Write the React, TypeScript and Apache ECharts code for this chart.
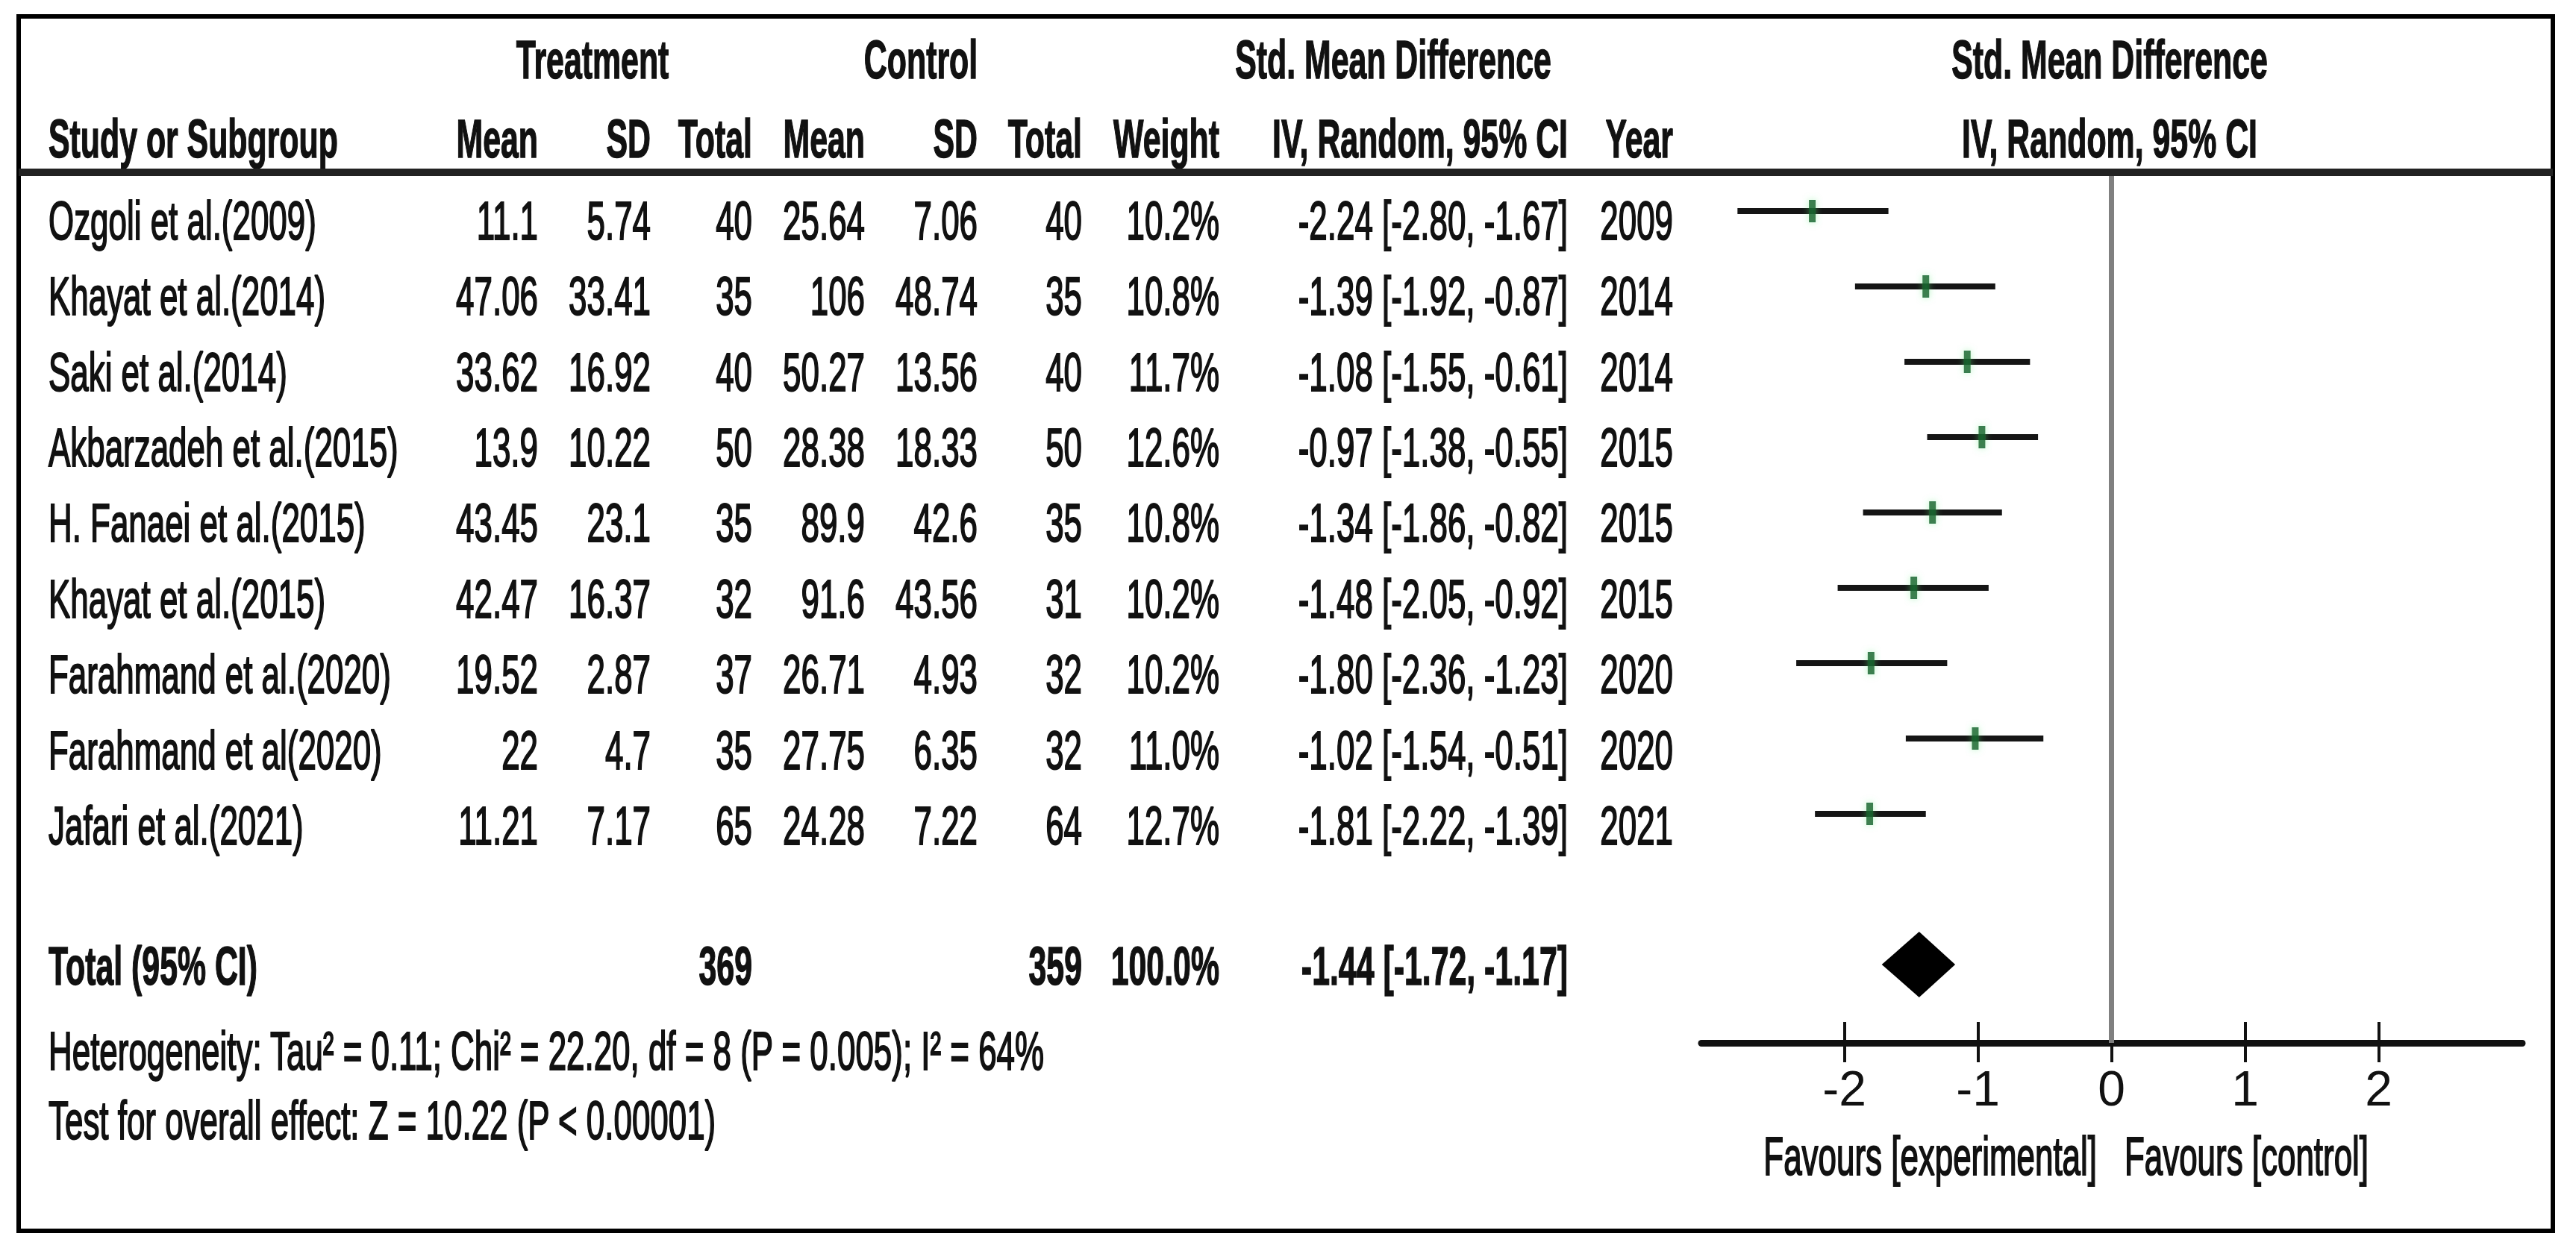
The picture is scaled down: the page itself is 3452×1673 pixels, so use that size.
import React, { useEffect, useRef } from 'react';
import * as echarts from 'echarts';

// ---------------- data ----------------
const studies = [
  'Ozgoli et al.(2009)',
  'Khayat et al.(2014)',
  'Saki et al.(2014)',
  'Akbarzadeh et al.(2015)',
  'H. Fanaei et al.(2015)',
  'Khayat et al.(2015)',
  'Farahmand et al.(2020)',
  'Farahmand et al(2020)',
  'Jafari et al.(2021)',
];
const treatMean = [11.1, 47.06, 33.62, 13.9, 43.45, 42.47, 19.52, 22, 11.21];
const treatSD = [5.74, 33.41, 16.92, 10.22, 23.1, 16.37, 2.87, 4.7, 7.17];
const treatN = [40, 35, 40, 50, 35, 32, 37, 35, 65];
const ctrlMean = [25.64, 106, 50.27, 28.38, 89.9, 91.6, 26.71, 27.75, 24.28];
const ctrlSD = [7.06, 48.74, 13.56, 18.33, 42.6, 43.56, 4.93, 6.35, 7.22];
const ctrlN = [40, 35, 40, 50, 35, 31, 32, 32, 64];
const weights = [10.2, 10.8, 11.7, 12.6, 10.8, 10.2, 10.2, 11.0, 12.7];
const smd = [-2.24, -1.39, -1.08, -0.97, -1.34, -1.48, -1.8, -1.02, -1.81];
const ciLow = [-2.8, -1.92, -1.55, -1.38, -1.86, -2.05, -2.36, -1.54, -2.22];
const ciHigh = [-1.67, -0.87, -0.61, -0.55, -0.82, -0.92, -1.23, -0.51, -1.39];
const years = [2009, 2014, 2014, 2015, 2015, 2015, 2020, 2020, 2021];

const totalTreatN = 369;
const totalCtrlN = 359;
const totalWeight = 100.0;
const totalSmd = -1.44;
const totalLow = -1.72;
const totalHigh = -1.17;

const headerTop = ['Treatment', 'Control', 'Std. Mean Difference', 'Std. Mean Difference'];
const headerBottom = ['Study or Subgroup', 'Mean', 'SD', 'Total', 'Mean', 'SD', 'Total', 'Weight', 'IV, Random, 95% CI', 'Year', 'IV, Random, 95% CI'];
const totalLabel = 'Total (95% CI)';
const heterogeneityText = 'Heterogeneity: Tau\u00B2 = 0.11; Chi\u00B2 = 22.20, df = 8 (P = 0.005); I\u00B2 = 64%';
const overallText = 'Test for overall effect: Z = 10.22 (P < 0.00001)';
const favoursLeft = 'Favours [experimental]';
const favoursRight = 'Favours [control]';
const axisTicks = [-2, -1, 0, 1, 2];

// ---------------- layout ----------------
const W = 3452;
const H = 1673;
const FONT = '"Liberation Sans", Arial, sans-serif';
const FS = 72;
const SX_NORMAL = 0.61;
const SX_BOLD = 0.595;
const INK = '#111';

// table grid (row units)
const T_TOP = 22;
const T_BOTTOM = 1650;
const T_ROW0 = 296;
const T_STEP = 101.4;
const tMin = (T_TOP - T_ROW0) / T_STEP;
const tMax = (T_BOTTOM - T_ROW0) / T_STEP;
const ROW_HEAD1 = -2.13;
const ROW_HEAD2 = -1.085;
const ROW_TOTAL = 9.85;
const ROW_HET = 10.98;
const ROW_TEST = 11.9;
const ROW_FAV = 12.37;

// forest grid
const F_TOP = 231;
const F_AXIS = 1398;
const F_ROW0 = 283;
const F_STEP = 101;
const fMin = (F_TOP - F_ROW0) / F_STEP;
const fMax = (F_AXIS - F_ROW0) / F_STEP;
const PLOT_TOTAL_ROW = 10;
const X_MIN = -3.07;
const X_MAX = 3.075;
const F_LEFT = 2280;
const F_WIDTH = 1100;

const COL = {
  study: 65,
  tMean: 721,
  tSD: 872,
  tN: 1008,
  cMean: 1159,
  cSD: 1310,
  cN: 1450,
  weight: 1634,
  ci: 2101,
  year: 2242,
  treatCenter: 794,
  ctrlCenter: 1234,
  smdCenter: 1867,
  plotCenter: 2827,
  favLeftRight: 2810,
  favRightLeft: 2847,
};

type Cell = { x: number; row: number; text: string; align: 'left' | 'right' | 'center'; bold?: boolean };

const f2 = (v: number) => v.toFixed(2);
const ciText = (m: number, lo: number, hi: number) => `${f2(m)} [${f2(lo)}, ${f2(hi)}]`;

function buildCells(): Cell[] {
  const cells: Cell[] = [];
  const topX = [COL.treatCenter, COL.ctrlCenter, COL.smdCenter, COL.plotCenter];
  headerTop.forEach((t, i) => cells.push({ x: topX[i], row: ROW_HEAD1, text: t, align: 'center', bold: true }));
  const botX = [COL.study, COL.tMean, COL.tSD, COL.tN, COL.cMean, COL.cSD, COL.cN, COL.weight, COL.ci, COL.year, COL.plotCenter];
  const botA: Cell['align'][] = ['left', 'right', 'right', 'right', 'right', 'right', 'right', 'right', 'right', 'right', 'center'];
  headerBottom.forEach((t, i) => cells.push({ x: botX[i], row: ROW_HEAD2, text: t, align: botA[i], bold: true }));

  studies.forEach((s, i) => {
    cells.push({ x: COL.study, row: i, text: s, align: 'left' });
    cells.push({ x: COL.tMean, row: i, text: String(treatMean[i]), align: 'right' });
    cells.push({ x: COL.tSD, row: i, text: String(treatSD[i]), align: 'right' });
    cells.push({ x: COL.tN, row: i, text: String(treatN[i]), align: 'right' });
    cells.push({ x: COL.cMean, row: i, text: String(ctrlMean[i]), align: 'right' });
    cells.push({ x: COL.cSD, row: i, text: String(ctrlSD[i]), align: 'right' });
    cells.push({ x: COL.cN, row: i, text: String(ctrlN[i]), align: 'right' });
    cells.push({ x: COL.weight, row: i, text: weights[i].toFixed(1) + '%', align: 'right' });
    cells.push({ x: COL.ci, row: i, text: ciText(smd[i], ciLow[i], ciHigh[i]), align: 'right' });
    cells.push({ x: COL.year, row: i, text: String(years[i]), align: 'right' });
  });

  cells.push({ x: COL.study, row: ROW_TOTAL, text: totalLabel, align: 'left', bold: true });
  cells.push({ x: COL.tN, row: ROW_TOTAL, text: String(totalTreatN), align: 'right', bold: true });
  cells.push({ x: COL.cN, row: ROW_TOTAL, text: String(totalCtrlN), align: 'right', bold: true });
  cells.push({ x: COL.weight, row: ROW_TOTAL, text: totalWeight.toFixed(1) + '%', align: 'right', bold: true });
  cells.push({ x: COL.ci, row: ROW_TOTAL, text: ciText(totalSmd, totalLow, totalHigh), align: 'right', bold: true });

  cells.push({ x: COL.study, row: ROW_HET, text: heterogeneityText, align: 'left' });
  cells.push({ x: COL.study, row: ROW_TEST, text: overallText, align: 'left' });
  cells.push({ x: COL.favLeftRight, row: ROW_FAV, text: favoursLeft, align: 'right' });
  cells.push({ x: COL.favRightLeft, row: ROW_FAV, text: favoursRight, align: 'left' });
  return cells;
}

function buildOption() {
  const cells = buildCells();
  return {
    animation: false,
    backgroundColor: '#ffffff',
    grid: [
      { left: 0, top: T_TOP, width: W, height: T_BOTTOM - T_TOP, containLabel: false },
      { left: F_LEFT, top: F_TOP, width: F_WIDTH, height: F_AXIS - F_TOP, containLabel: false },
    ],
    xAxis: [
      { gridIndex: 0, type: 'value', min: 0, max: W, show: false },
      {
        gridIndex: 1,
        type: 'value',
        min: X_MIN,
        max: X_MAX,
        position: 'bottom',
        splitLine: { show: false },
        axisLine: { show: true, onZero: false, lineStyle: { color: INK, width: 9 } },
        axisTick: { show: true, customValues: axisTicks, length: 26, lineStyle: { color: INK, width: 4 } },
        axisLabel: {
          show: true,
          customValues: axisTicks,
          margin: 28,
          fontSize: 66,
          fontFamily: FONT,
          color: INK,
        },
      },
      {
        gridIndex: 1,
        type: 'value',
        min: X_MIN,
        max: X_MAX,
        position: 'bottom',
        offset: 0,
        splitLine: { show: false },
        axisLine: { show: false, onZero: false },
        axisTick: { show: true, inside: true, customValues: axisTicks, length: 28, lineStyle: { color: INK, width: 4 } },
        axisLabel: { show: false },
      },
    ],
    yAxis: [
      { gridIndex: 0, type: 'value', inverse: true, min: tMin, max: tMax, show: false },
      { gridIndex: 1, type: 'value', inverse: true, min: fMin, max: fMax, show: false },
    ],
    graphic: [
      {
        type: 'rect',
        shape: { x: 25, y: 22, width: 3396, height: 1628 },
        style: { fill: 'none', stroke: '#000', lineWidth: 6 },
        z: 100,
      },
      {
        type: 'line',
        shape: { x1: 25, y1: 231, x2: 3421, y2: 231 },
        style: { stroke: '#222', lineWidth: 10 },
        z: 100,
      },
    ],
    series: [
      {
        type: 'custom',
        name: 'table',
        xAxisIndex: 0,
        yAxisIndex: 0,
        data: cells.map((c) => [c.x, c.row]),
        encode: { x: 0, y: 1 },
        renderItem: (params: any, api: any) => {
          const c = cells[params.dataIndex];
          const p = api.coord([api.value(0), api.value(1)]);
          return {
            type: 'text',
            x: p[0],
            y: p[1],
            scaleX: c.bold ? SX_BOLD : SX_NORMAL,
            style: {
              text: c.text,
              fill: INK,
              stroke: INK,
              lineWidth: c.bold ? 1.5 : 2,
              fontSize: FS,
              fontFamily: FONT,
              fontWeight: c.bold ? 'bold' : 'normal',
              align: c.align,
              verticalAlign: 'middle',
            },
          };
        },
      },
      {
        type: 'custom',
        name: 'ci',
        xAxisIndex: 1,
        yAxisIndex: 1,
        data: studies.map((_, i) => [ciLow[i], ciHigh[i], i]),
        encode: { x: [0, 1], y: 2 },
        renderItem: (params: any, api: any) => {
          const a = api.coord([api.value(0), api.value(2)]);
          const b = api.coord([api.value(1), api.value(2)]);
          return {
            type: 'line',
            shape: { x1: a[0], y1: a[1], x2: b[0], y2: b[1] },
            style: { stroke: '#151515', lineWidth: 8 },
          };
        },
        z: 3,
      },
      {
        type: 'scatter',
        name: 'smd',
        xAxisIndex: 1,
        yAxisIndex: 1,
        data: studies.map((_, i) => [smd[i], i]),
        symbol: 'rect',
        symbolSize: [9, 30],
        itemStyle: { color: '#0b5a26', shadowBlur: 10, shadowColor: 'rgba(90,230,120,0.55)' },
        z: 4,
        markLine: {
          silent: true,
          symbol: ['none', 'none'],
          label: { show: false },
          lineStyle: { color: '#808080', width: 7, type: 'solid' },
          data: [{ xAxis: 0 }],
          z: 1,
        },
      },
      {
        type: 'custom',
        name: 'total',
        xAxisIndex: 1,
        yAxisIndex: 1,
        data: [[totalSmd, totalLow, totalHigh, PLOT_TOTAL_ROW]],
        encode: { x: [0, 1, 2], y: 3 },
        renderItem: (params: any, api: any) => {
          const m = api.coord([api.value(0), api.value(3)]);
          const lo = api.coord([api.value(1), api.value(3)]);
          const hi = api.coord([api.value(2), api.value(3)]);
          const half = 44;
          return {
            type: 'polygon',
            shape: {
              points: [
                [lo[0], lo[1]],
                [m[0], m[1] - half],
                [hi[0], hi[1]],
                [m[0], m[1] + half],
              ],
            },
            style: { fill: '#000' },
          };
        },
        z: 5,
      },
    ],
  };
}

export default function App() {
  const ref = useRef<HTMLDivElement>(null);
  useEffect(() => {
    document.body.style.margin = '0';
    if (!ref.current) return;
    const chart = echarts.init(ref.current, null, { renderer: 'svg', width: W, height: H });
    chart.setOption(buildOption() as any);
    return () => chart.dispose();
  }, []);
  return (
    <div
      ref={ref}
      style={{ position: 'absolute', left: 0, top: 0, width: W, height: H, background: '#fff' }}
    />
  );
}
